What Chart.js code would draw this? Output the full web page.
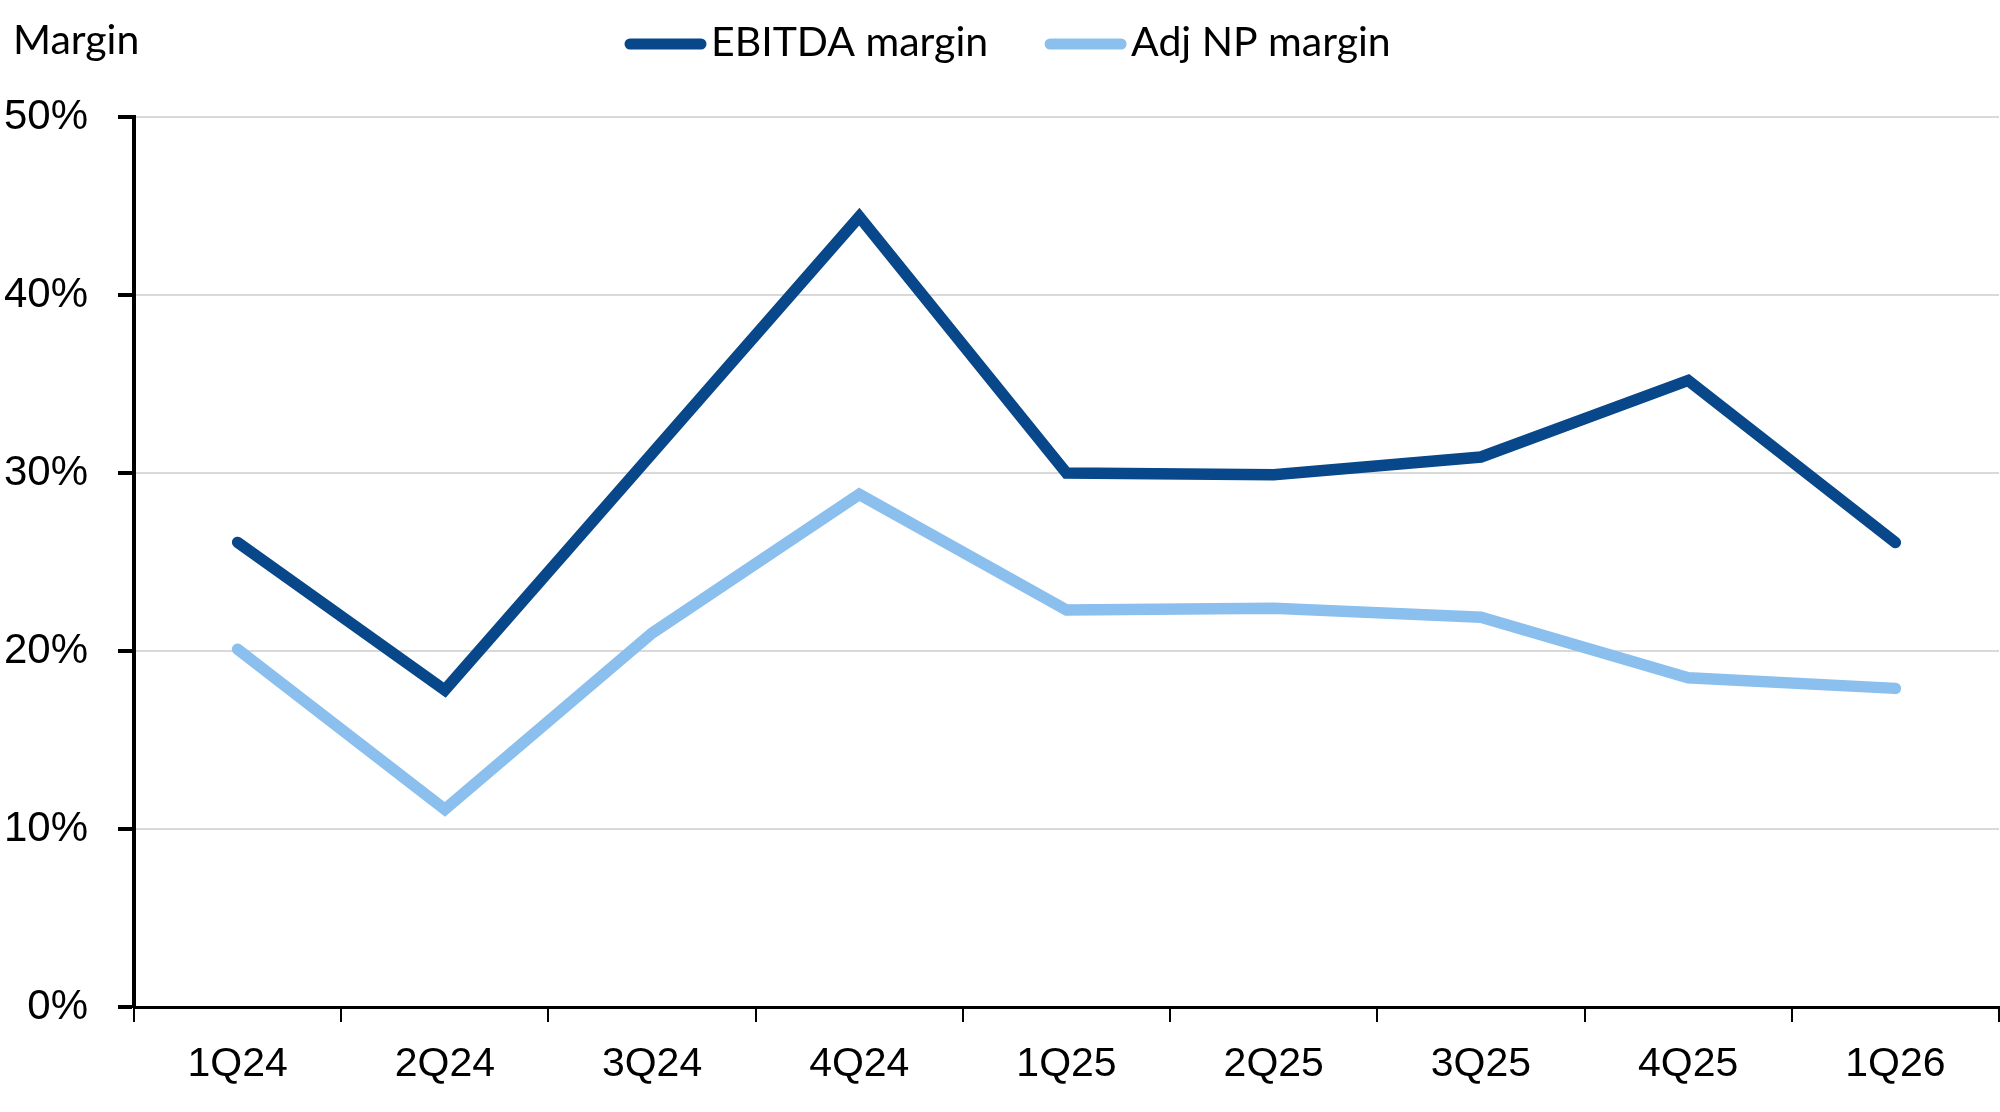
<!DOCTYPE html>
<html>
<head>
<meta charset="utf-8">
<script src="https://cdn.jsdelivr.net/npm/chart.js@4.4.1/dist/chart.umd.min.js"></script>
<style>
  html, body { margin: 0; padding: 0; background: #ffffff; }
  #wrap { width: 2000px; height: 1112px; }
</style>
</head>
<body>
<div id="wrap"><canvas id="c" width="2000" height="1112"></canvas></div>
<script>
const categories = ["1Q24", "2Q24", "3Q24", "4Q24", "1Q25", "2Q25", "3Q25", "4Q25", "1Q26"];
const ebitdaMargin = [26.1, 17.8, 31.1, 44.4, 30.0, 29.9, 30.9, 35.2, 26.1];
const adjNpMargin = [20.1, 11.1, 21.0, 28.8, 22.3, 22.4, 21.9, 18.5, 17.9];
const seriesNames = ["EBITDA margin", "Adj NP margin"];
const yTitle = "Margin";

const FONT = "'Liberation Sans', Arial, sans-serif";
const TFONT = "Lato, 'Liberation Sans', sans-serif";
const DARK = "#08488a";
const LIGHT = "#8bbfee";

const titleLegendPlugin = {
  id: "titleLegend",
  afterDraw(chart) {
    const ctx = chart.ctx;
    ctx.save();
    ctx.fillStyle = "#000";
    ctx.font = "41px " + TFONT;
    ctx.textBaseline = "middle";
    ctx.textAlign = "left";
    ctx.fillText(yTitle, 13, 41);

    ctx.font = "41px " + TFONT;
    let x = 625;
    const y = 44;
    chart.data.datasets.forEach((ds) => {
      ctx.strokeStyle = ds.borderColor;
      ctx.lineWidth = 11;
      ctx.lineCap = "round";
      ctx.beginPath();
      ctx.moveTo(x + 5, y);
      ctx.lineTo(x + 76, y);
      ctx.stroke();
      ctx.fillStyle = "#000";
      ctx.fillText(ds.label, x + 86, y - 1);
      x += 86 + ctx.measureText(ds.label).width + 57;
    });
    ctx.restore();
  }
};

new Chart(document.getElementById("c"), {
  type: "line",
  data: {
    labels: categories,
    datasets: [
      {
        label: seriesNames[0],
        data: ebitdaMargin,
        borderColor: DARK,
        backgroundColor: DARK,
        borderWidth: 11.5,
        borderCapStyle: "round",
        borderJoinStyle: "miter",
        pointRadius: 0,
        tension: 0
      },
      {
        label: seriesNames[1],
        data: adjNpMargin,
        borderColor: LIGHT,
        backgroundColor: LIGHT,
        borderWidth: 11.5,
        borderCapStyle: "round",
        borderJoinStyle: "miter",
        pointRadius: 0,
        tension: 0
      }
    ]
  },
  options: {
    responsive: false,
    devicePixelRatio: 1,
    animation: false,
    layout: { padding: { top: 117, right: 1, left: 0, bottom: 0 } },
    plugins: {
      legend: { display: false },
      tooltip: { enabled: false },
      title: { display: false }
    },
    scales: {
      x: {
        type: "category",
        offset: true,
        grid: {
          display: true,
          drawOnChartArea: false,
          drawTicks: true,
          offset: true,
          tickLength: 15,
          tickColor: "#000",
          tickWidth: 2,
          lineWidth: 2,
          color: "#000"
        },
        border: { display: true, color: "#000", width: 3 },
        ticks: {
          color: "#000",
          font: { family: FONT, size: 41 },
          padding: 18,
          maxRotation: 0,
          autoSkip: false
        },
        afterFit(scale) { scale.height = 105; }
      },
      y: {
        min: 0,
        max: 50,
        grid: {
          color: "#d9d9d9",
          lineWidth: 2,
          tickColor: "#000",
          tickWidth: 4,
          tickLength: 16
        },
        border: { display: true, color: "#000", width: 4 },
        ticks: {
          stepSize: 10,
          color: "#000",
          font: { family: FONT, size: 42 },
          padding: 30,
          callback: (v) => v + "%"
        },
        afterFit(scale) { scale.width = 134; }
      }
    }
  },
  plugins: [titleLegendPlugin]
});
</script>
</body>
</html>
